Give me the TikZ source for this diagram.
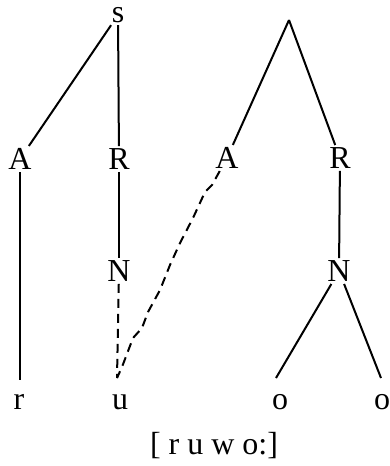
\documentclass[tikz,border=0pt]{standalone}
\usepackage{fontspec}
\setmainfont{Liberation Serif}
\usetikzlibrary{positioning}

\begin{document}
\begin{tikzpicture}[x=1pt,y=-1pt,line width=2pt,
  seg/.style={font=\fontsize{32}{38}\selectfont,inner sep=1.5pt},
  link/.style={dash pattern=on 9pt off 6pt}]
\useasboundingbox (0,0) rectangle (389,466);
% syllable one
\node[seg] (s) at (118,15) {s};
\node[seg] (A1) at (20,159) {A};
\node[seg] (R1) at (119,159) {R};
\node[seg] (N1) at (119,271) {N};
% syllable two
\coordinate (s2) at (289,20);
\node[seg] (A2) at (227,158) {A};
\node[seg] (R2) at (340,158) {R};
\node[seg] (N2) at (339,271) {N};
% segments
\node[seg] (r) at (19,402) {r};
\node[seg] (u) at (120,402) {u};
\node[seg] (o1) at (280,402) {o};
\node[seg] (o2) at (382,402) {o};
\coordinate (ru) at (20,380);
\coordinate (uu) at (117,378);
\coordinate (o1u) at (276,378);
\coordinate (o2u) at (381,378);
\node[seg] (ipa) at (214,446) {[ r u w o:]};

\draw (s) -- (A1);
\draw (s) -- (R1);
\draw (R1) -- (N1);
\draw (A1) -- (ru);
\draw (s2) -- (A2);
\draw (s2) -- (R2);
\draw (R2) -- (N2);
\draw (N2) -- (o1u);
\draw (N2) -- (o2u);
\draw[link] (N1) -- (uu);
\draw[link] (A2) -- (212,185) -- (205,192) -- (193,218) -- (180,243) -- (170,265)
  -- (160,290) -- (148,312) -- (142,328) -- (133,338) -- (122,367) -- (uu);
\end{tikzpicture}
\end{document}
